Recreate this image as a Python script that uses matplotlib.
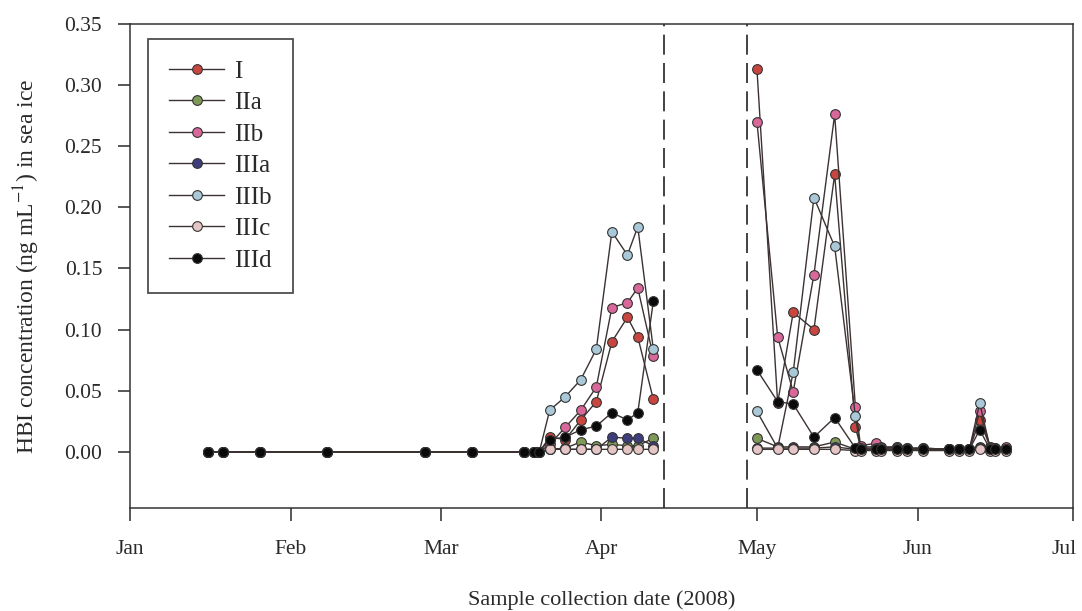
import matplotlib
matplotlib.use('Agg')
import matplotlib.pyplot as plt
import matplotlib.dates as mdates
import matplotlib.transforms as mtransforms
import numpy as np
import pandas as pd

# ---------------- data ----------------
dates = [
    '2008-01-16', '2008-01-19', '2008-01-26', '2008-02-08', '2008-02-27', '2008-03-07',
    '2008-03-17', '2008-03-19', '2008-03-20',
    '2008-03-22', '2008-03-25', '2008-03-28', '2008-03-31', '2008-04-03', '2008-04-06',
    '2008-04-08', '2008-04-11',
    '2008-05-01', '2008-05-05', '2008-05-08', '2008-05-12', '2008-05-16', '2008-05-20',
    '2008-05-21', '2008-05-24', '2008-05-25', '2008-05-28', '2008-05-30', '2008-06-02',
    '2008-06-07', '2008-06-09', '2008-06-11', '2008-06-13', '2008-06-15', '2008-06-16',
    '2008-06-18',
]

early = [0.0] * 9

I_vals = early + [0.012, 0.010, 0.026, 0.041, 0.090, 0.110, 0.094, 0.043,
                  0.313, 0.040, 0.114, 0.100, 0.227, 0.020, 0.004, 0.004, 0.003, 0.004,
                  0.003, 0.003, 0.002, 0.002, 0.002, 0.026, 0.004, 0.003, 0.003]
IIa_vals = early + [0.002, 0.003, 0.008, 0.005, 0.006, 0.005, 0.005, 0.011,
                    0.011, 0.004, 0.004, 0.004, 0.008, 0.002, 0.002, 0.002, 0.002, 0.002,
                    0.002, 0.002, 0.002, 0.002, 0.002, 0.004, 0.002, 0.002, 0.002]
IIb_vals = early + [0.006, 0.020, 0.034, 0.053, 0.118, 0.122, 0.134, 0.078,
                    0.270, 0.094, 0.049, 0.145, 0.276, 0.037, 0.005, 0.007, 0.004, 0.004,
                    0.003, 0.003, 0.002, 0.002, 0.002, 0.033, 0.004, 0.003, 0.004]
IIIa_vals = early + [0.002, 0.002, 0.002, 0.002, 0.012, 0.011, 0.011, 0.005,
                     0.003, 0.003, 0.003, 0.003, 0.004, 0.002, 0.002, 0.002, 0.002, 0.002,
                     0.002, 0.002, 0.002, 0.002, 0.002, 0.003, 0.002, 0.002, 0.002]
IIIb_vals = early + [0.034, 0.045, 0.059, 0.084, 0.180, 0.161, 0.184, 0.084,
                     0.033, 0.003, 0.065, 0.208, 0.168, 0.029, 0.003, 0.003, 0.003, 0.003,
                     0.002, 0.002, 0.002, 0.002, 0.002, 0.040, 0.003, 0.002, 0.002]
IIIc_vals = early + [0.002, 0.002, 0.002, 0.002, 0.002, 0.002, 0.002, 0.002,
                     0.002, 0.002, 0.002, 0.002, 0.002, 0.001, 0.001, 0.001, 0.001, 0.001,
                     0.001, 0.001, 0.001, 0.001, 0.001, 0.002, 0.001, 0.001, 0.001]
IIId_vals = early + [0.010, 0.012, 0.018, 0.021, 0.032, 0.026, 0.032, 0.123,
                     0.067, 0.041, 0.039, 0.012, 0.028, 0.003, 0.002, 0.002, 0.002, 0.002,
                     0.002, 0.002, 0.002, 0.002, 0.002, 0.018, 0.002, 0.002, 0.002]

series_names = ['I', 'IIa', 'IIb', 'IIIa', 'IIIb', 'IIIc', 'IIId']
series_values = [I_vals, IIa_vals, IIb_vals, IIIa_vals, IIIb_vals, IIIc_vals, IIId_vals]
series_colors = ['#c8463f', '#7f9a58', '#d8679a', '#3e3d7c', '#a9c8d8', '#e6c6c4', '#0a0a0a']

break_dates = ['2008-04-13', '2008-04-29']
month_ticks = ['2008-01-01', '2008-02-01', '2008-03-01', '2008-04-01',
               '2008-05-01', '2008-06-01', '2008-07-01']
y_ticks = [0.00, 0.05, 0.10, 0.15, 0.20, 0.25, 0.30, 0.35]

# ---------------- plot ----------------
plt.rcParams['font.family'] = ['Liberation Serif', 'DejaVu Serif']
plt.rcParams['mathtext.fontset'] = 'stix'

W, H = 1082, 611
fig = plt.figure(figsize=(W / 100, H / 100), dpi=100)
ax = fig.add_axes([130 / W, 1 - 508 / H, (1073 - 130) / W, (508 - 24) / H])

x = pd.to_datetime(dates)
gap = pd.Timestamp(break_dates[0])
line_col = '#3c3232'
txt_col = '#2a2a2a'

for name, vals, col in zip(series_names, series_values, series_colors):
    v = np.asarray(vals, dtype=float)
    first = True
    for m in (x < gap, x >= gap):
        ax.plot(x[m], v[m], '-', color=line_col, lw=1.0,
                marker='o', ms=7.0, mfc=col, mec='#333333', mew=0.8,
                label=name if first else None)
        first = False

for d in break_dates:
    ax.axvline(pd.Timestamp(d), color='#222222', lw=1.2, ls=(0, (12, 5)), zorder=0)

ax.set_xlim(pd.Timestamp(month_ticks[0]), pd.Timestamp(month_ticks[-1]))
ax.set_ylim(-0.046, 0.35)
ax.set_xticks(pd.to_datetime(month_ticks))
ax.xaxis.set_major_formatter(mdates.DateFormatter('%b'))
ax.set_yticks(y_ticks)
ax.set_yticklabels([f'{t:.2f}' for t in y_ticks])

for s in ['left', 'bottom', 'top', 'right']:
    ax.spines[s].set_linewidth(1.1)
    ax.spines[s].set_color('#333333')

ax.tick_params(axis='y', direction='out', length=9, width=1.1, pad=11,
               labelsize=15.5, colors=txt_col, right=False)
ax.tick_params(axis='x', direction='out', length=9, width=1.1, pad=14,
               labelsize=15.5, colors=txt_col, top=False)

# keep the last month label inside the figure, as in the reference
last = ax.get_xticklabels()[-1]
last.set_transform(last.get_transform() +
                   mtransforms.ScaledTranslation(-0.09, 0, fig.dpi_scale_trans))

ax.set_ylabel('HBI concentration (ng mL$^{-1}$) in sea ice', fontsize=17, color=txt_col)
ax.yaxis.set_label_coords(-0.093, 0.5)
ax.set_xlabel('Sample collection date (2008)', fontsize=16, color=txt_col)
ax.xaxis.set_label_coords(0.5, -0.169)

leg = ax.legend(loc='upper left', bbox_to_anchor=((148 - 130) / 943, (508 - 39) / 484),
                borderaxespad=0, fontsize=18, frameon=True, fancybox=False,
                handlelength=2.2, labelspacing=0.36, handletextpad=0.4,
                borderpad=0.85, edgecolor='#222222')
leg.get_frame().set_linewidth(1.3)
for t in leg.get_texts():
    t.set_color(txt_col)

fig.savefig('out.png', dpi=100)
